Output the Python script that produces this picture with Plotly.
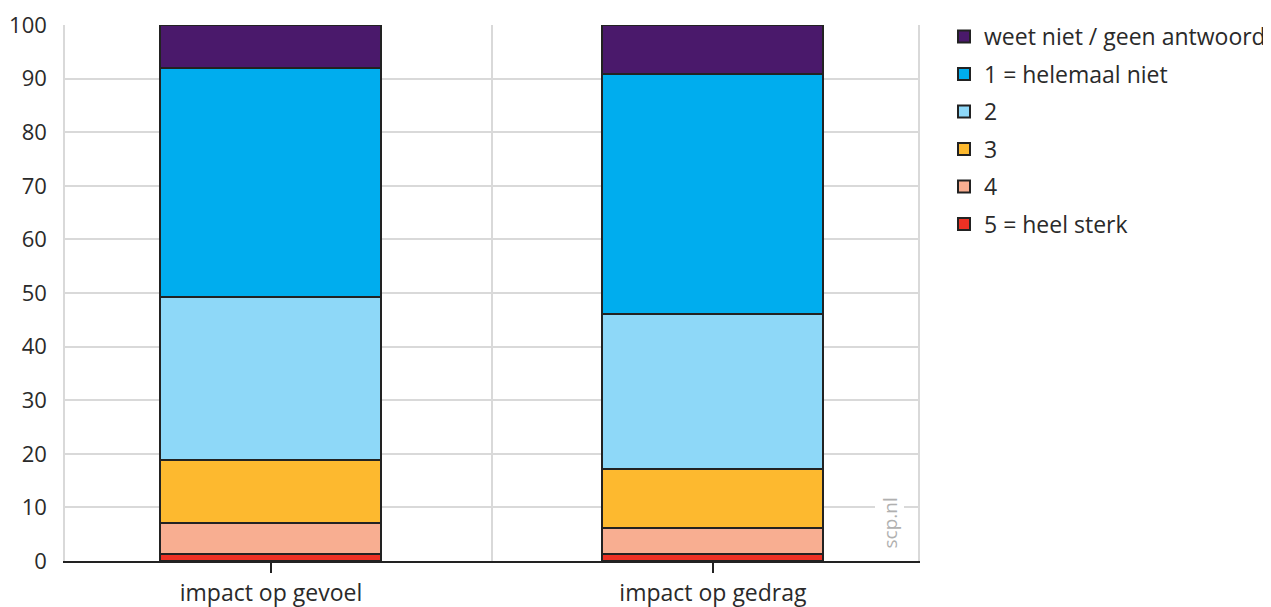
import plotly.graph_objects as go

categories = ["impact op gevoel", "impact op gedrag"]
x_pos = [0, 1]
series_names = ["5 = heel sterk", "4", "3", "2", "1 = helemaal niet", "weet niet / geen antwoord"]
values = {
    "5 = heel sterk": [1.4, 1.4],
    "4": [5.7, 4.8],
    "3": [11.7, 10.9],
    "2": [30.4, 29.0],
    "1 = helemaal niet": [42.7, 44.8],
    "weet niet / geen antwoord": [8.1, 9.1],
}
colors = {
    "5 = heel sterk": "#EE3124",
    "4": "#F8AE91",
    "3": "#FDB92F",
    "2": "#8ED8F8",
    "1 = helemaal niet": "#00ADEE",
    "weet niet / geen antwoord": "#4A196B",
}
y_ticks = list(range(0, 101, 10))

font_family = "Open Sans, Noto Sans, sans-serif"
text_color = "#2a2a2a"

fig = go.Figure()
n = len(series_names)
for i, name in enumerate(series_names):
    fig.add_trace(go.Bar(
        x=x_pos, y=values[name], name=name, legendgroup=name,
        legendrank=n - i,
        width=0.5,
        marker=dict(color=colors[name], line=dict(color="#222222", width=2)),
        hoverinfo="name+y",
    ))

fig.update_layout(
    barmode="stack",
    width=1271, height=607,
    margin=dict(l=57, r=361, t=17, b=54, autoexpand=False),
    plot_bgcolor="white", paper_bgcolor="white",
    font=dict(family=font_family, size=22, color=text_color),
    showlegend=True,
    legend=dict(
        xref="container", yref="container",
        x=936 / 1271, xanchor="left", y=1 - 7 / 607, yanchor="top",
        traceorder="grouped", tracegroupgap=4.6,
        font=dict(size=23, color=text_color),
        itemwidth=30,
    ),
    xaxis=dict(
        range=[-0.466, 1.464], automargin=False,
        tickmode="array", tickvals=x_pos, ticktext=categories,
        showgrid=False, zeroline=False,
        showline=True, linecolor="#222222", linewidth=1.5,
        ticks="outside", ticklen=10, tickcolor="#222222", tickwidth=1.5,
        ticklabelstandoff=1,
        tickfont=dict(size=23),
        minor=dict(tickvals=[0.5], showgrid=True, gridcolor="#d9d9d9", gridwidth=1.5, ticks=""),
    ),
    yaxis=dict(
        range=[0, 100], automargin=False,
        tickmode="array", tickvals=y_ticks,
        showgrid=True, gridcolor="#d9d9d9", gridwidth=1.5,
        zeroline=False,
        showline=True, linecolor="#d9d9d9", linewidth=1.5, mirror=True,
        ticks="", ticklabelstandoff=12,
        tickfont=dict(size=22),
    ),
    annotations=[dict(
        text="scp.nl", x=1.0, xref="paper", xanchor="right", xshift=-13,
        y=0.07, yref="paper", yanchor="middle",
        textangle=-90, showarrow=False, bgcolor="white",
        font=dict(size=19, color="#b0b0b0"),
    )],
)

fig.write_html("out.html")
